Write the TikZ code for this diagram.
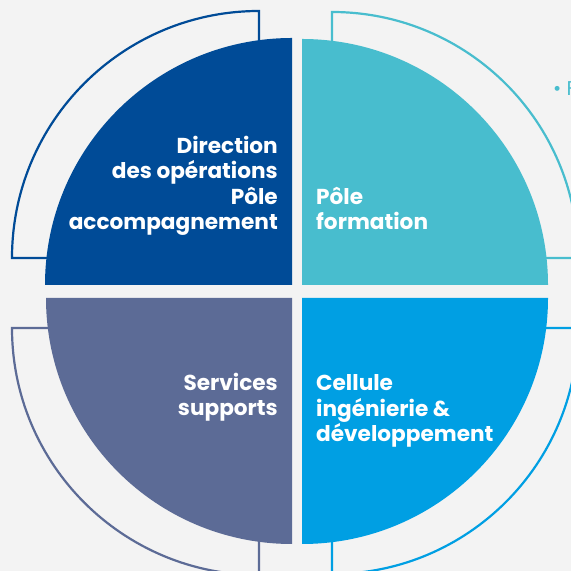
\documentclass[tikz,border=0pt]{standalone}
\usepackage{fontspec}
\setmainfont{Poppins}
\begin{document}
\begin{tikzpicture}[x=1bp,y=1bp]
    % Define colors
    \definecolor{bgcolor}{RGB}{243,243,243}
    \definecolor{direction}{RGB}{0,75,151}
    \definecolor{formation}{RGB}{72,189,206}
    \definecolor{services}{RGB}{92,107,150}
    \definecolor{cellule}{RGB}{0,159,227}
    \tikzset{
        outline/.style={line width=2.2bp},
        polelabel/.style={text=white, inner sep=0pt,
            font=\bfseries\fontsize{21.7}{25.6}\selectfont}
    }

    % Background
    \fill[bgcolor] (0,0) rectangle (571,571);
    \useasboundingbox (0,0) rectangle (571,571);

    % Outline quarters (offset outwards)
    \draw[outline, direction] (259,313) -- (259,560) arc[start angle=90, end angle=180, radius=247] -- cycle;
    \draw[outline, formation] (332,313) -- (332,559) arc[start angle=90, end angle=0, radius=246] -- cycle;
    \draw[outline, services] (259,243) -- (12,243) arc[start angle=180, end angle=270, radius=247] -- cycle;
    \draw[outline, cellule] (332,243) -- (332,-3) arc[start angle=270, end angle=360, radius=246] -- cycle;

    % Filled quarters
    \fill[direction] (292,286) -- (45,286) arc[start angle=180, end angle=90, radius=247] -- cycle;
    \fill[formation] (302,286) -- (548,286) arc[start angle=0, end angle=90, radius=246] -- cycle;
    \fill[services] (292,273) -- (46,273) arc[start angle=180, end angle=270, radius=246] -- cycle;
    \fill[cellule] (302,273) -- (548,273) arc[start angle=0, end angle=-90, radius=246] -- cycle;

    % Labels (base = last line)
    \node[polelabel, align=right, anchor=base east] (direction) at (278,341)
        {Direction\\des opérations\\Pôle\\accompagnement};
    \node[polelabel, align=left, anchor=base west] (formation) at (316,341)
        {Pôle\\formation};
    \node[polelabel, align=right, anchor=base east] (services) at (278,155)
        {Services\\supports};
    \node[polelabel, align=left, anchor=base west] (cellule) at (316,129)
        {Cellule\\ingénierie \&\\développement};

    % Cut-off text on the right
    \node[text=formation, inner sep=0pt, anchor=base west, font=\fontsize{20}{24}\selectfont] (puce) at (553,475) {• F};

\end{tikzpicture}
\end{document}
